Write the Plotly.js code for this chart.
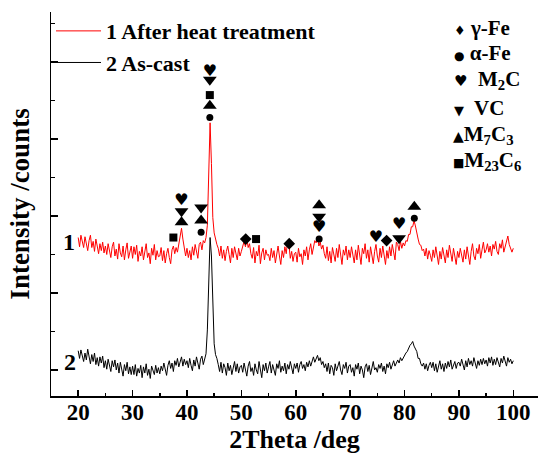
<!DOCTYPE html>
<html>
<head>
<meta charset="utf-8">
<script src="https://cdn.plot.ly/plotly-3.0.1.min.js"></script>
<style>html,body{margin:0;padding:0;overflow:hidden;background:#fff}#chart{width:538px;height:454px}</style>
</head>
<body>
<div id="chart"></div>
<script>
// 2Theta grid: start and step (deg)
const thetaStart = 20;
const thetaStep = 0.25;

// Curve 1: after heat treatment (arbitrary counts)
const heatTreated = [
172,160,175,166,159,173,163,155,168,175,159,167,154,170,161,151,164,155,166,152,
161,150,164,153,146,160,166,148,157,144,164,152,147,161,143,156,165,145,153,161,
145,160,150,162,141,154,148,160,143,156,164,146,152,138,158,149,163,143,155,147,
148,159,142,155,139,151,158,146,138,156,161,151,159,153,162,172,184,170,157,148,
158,146,155,143,160,149,163,151,145,163,166,156,168,165,172,188,242,321,268,198,
178,168,163,158,148,161,145,156,142,154,161,150,139,158,146,160,152,143,158,148,
154,163,167,160,171,159,164,151,145,159,139,154,148,162,138,152,158,143,156,149,
150,142,158,146,155,139,152,161,148,137,155,146,160,151,167,163,145,154,141,151,
153,140,158,147,151,137,156,148,160,143,156,164,150,162,168,165,174,161,166,157,
162,151,145,160,142,154,139,159,150,141,158,146,163,152,137,156,149,161,143,156,
146,160,150,139,156,143,162,148,137,158,151,164,145,156,140,160,148,138,154,163,
148,140,158,146,161,150,137,155,145,160,148,163,153,143,166,163,155,167,158,165,
161,168,167,176,176,186,186,194,187,177,170,163,162,155,157,148,158,144,155,149,
141,156,146,160,149,137,154,144,159,150,139,156,146,162,151,141,158,148,137,154,
146,158,149,140,156,144,160,151,137,154,164,148,143,158,151,163,145,156,166,152,
156,164,153,161,148,163,157,167,154,150,164,158,169,153,161,170,174,163,158,153,
158
];

// Curve 2: as-cast (arbitrary counts)
const asCast = [
25,15,26,18,11,22,13,27,16,8,20,11,22,7,16,5,17,9,18,3,
12,1,14,5,-2,12,4,13,0,9,-4,10,1,-8,7,-1,10,-5,4,-6,
5,-6,7,-8,2,-4,6,-10,4,-4,8,-7,1,-11,5,-1,-6,6,-4,3,
-5,5,-1,9,1,-7,6,12,2,9,-2,12,6,15,4,10,17,5,14,7,
12,3,15,6,-1,13,5,17,9,1,14,18,7,16,21,52,120,172,148,72,
34,20,15,7,-2,10,-4,8,3,-7,9,-1,6,-6,5,11,-2,8,-4,4,
6,-3,9,1,-8,5,11,-2,3,-7,8,0,-5,11,2,-10,7,-1,9,-4,
4,11,-4,7,0,-7,8,2,12,-3,5,-1,9,-5,7,1,11,3,-5,8,
2,9,-3,7,11,2,7,-1,10,4,12,5,12,17,10,15,19,12,16,7,
11,3,8,-2,9,-5,6,3,-7,8,-1,5,11,0,-6,7,2,10,-4,5,
7,-3,3,-8,7,1,9,-5,5,0,-10,4,8,-2,6,-6,4,11,0,3,
-3,7,2,9,-2,5,-5,8,3,10,1,6,12,5,9,13,9,16,12,16,
18,22,24,29,32,34,37,31,28,24,15,15,8,5,9,1,8,-1,6,10,
3,10,-1,8,-3,6,12,1,8,-2,9,2,11,4,13,1,7,11,2,9,
10,5,14,7,0,12,4,15,7,12,5,16,9,2,12,6,14,7,15,8,
13,5,16,9,17,6,14,7,16,11,4,15,9,18,11,5,16,10,14,8,
12
];

// Phase identification marks (peak 2Theta, label height)
const gammaFeX = [50.8, 58.8, 76.7];
const gammaFeY = [170, 164, 168];
const alphaFeX = [42.6, 44.2, 64.3, 81.8];
const alphaFeY = [179, 328, 170, 197];
const m2cX = [39.0, 44.2, 64.3, 74.75, 79.0];
const m2cY = [220, 387, 184, 171, 188];
const vcX = [39.0, 42.6, 44.2, 64.3, 79.0];
const vcY = [206, 211, 377, 199, 171];
const m7c3X = [39.0, 42.6, 44.2, 64.3, 81.8];
const m7c3Y = [192, 194, 343, 214, 212];
const m23c6X = [37.5, 44.2, 52.7];
const m23c6Y = [172, 357, 170];

const seriesNames = ['1 After heat treatment', '2 As-cast'];
const phaseLegend = ['γ-Fe', 'α-Fe', 'M<sub>2</sub>C', 'VC', 'M<sub>7</sub>C<sub>3</sub>', 'M<sub>23</sub>C<sub>6</sub>'];
const phaseSymbols = ['♦', '●', '♥', '▼', '▲', '■'];

const serif = 'Liberation Serif, Times New Roman, serif';
const fontB = (s) => ({family: serif, size: s, color: '#000', weight: 700});

function markTrace(x, y, symbol, size) {
  return {x: x, y: y, type: 'scatter', mode: 'markers', showlegend: false, hoverinfo: 'skip',
    marker: {symbol: symbol, size: size, color: '#000', line: {width: 0}}};
}

const traces = [
  {y: heatTreated, x0: thetaStart, dx: thetaStep, type: 'scatter', mode: 'lines', name: seriesNames[0],
   line: {color: '#ff0000', width: 1}},
  {y: asCast, x0: thetaStart, dx: thetaStep, type: 'scatter', mode: 'lines', name: seriesNames[1],
   line: {color: '#000000', width: 1}},
  markTrace(gammaFeX, gammaFeY, 'diamond', 9),
  markTrace(alphaFeX, alphaFeY, 'circle', 7),
  markTrace(vcX, vcY, 'triangle-down', 12),
  markTrace(m7c3X, m7c3Y, 'triangle-up', 12),
  markTrace(m23c6X, m23c6Y, 'square', 8),
  {x: m2cX, y: m2cY, type: 'scatter', mode: 'text', text: m2cX.map(() => '♥'), showlegend: false, hoverinfo: 'skip',
   textposition: 'middle center', textfont: {family: 'DejaVu Sans', size: 16, color: '#000'}}
];

const annotations = [
  {x: 18.3, y: 166, xref: 'x', yref: 'y', text: '1', showarrow: false, font: fontB(24), xanchor: 'center', yanchor: 'middle'},
  {x: 18.5, y: 10, xref: 'x', yref: 'y', text: '2', showarrow: false, font: fontB(24), xanchor: 'center', yanchor: 'middle'}
];
const legendTop = [28, 53, 80, 108, 135, 161];
const legendLeft = [452, 452, 452, 452, 451, 451];
const symSizes = [13, 12, 15, 13, 14, 12];
const gaps = [' ', ' ', '  ', '  ', '', ''];
for (let i = 0; i < phaseLegend.length; i++) {
  annotations.push({
    xref: 'paper', yref: 'paper', x: (legendLeft[i] - 51) / 487, y: 1 - (legendTop[i] - 12) / 384,
    xanchor: 'left', yanchor: 'middle', showarrow: false, align: 'left',
    text: "<span style='font-family:DejaVu Sans;font-size:" + symSizes[i] + "px'>" + phaseSymbols[i] + "</span>" + gaps[i] + phaseLegend[i],
    font: fontB(21)
  });
}

const layout = {
  width: 538, height: 454,
  margin: {l: 51, r: 0, t: 12, b: 58},
  paper_bgcolor: '#fff', plot_bgcolor: '#fff',
  showlegend: true,
  legend: {x: 0.0, y: 1.005, xanchor: 'left', yanchor: 'top', bgcolor: 'rgba(0,0,0,0)', font: fontB(22),
           borderwidth: 0, itemwidth: 45},
  xaxis: {
    range: [15, 104.54], showline: true, linecolor: '#000', linewidth: 1.5, mirror: false,
    ticks: 'inside', ticklen: 6, tickwidth: 1.5, tickcolor: '#000', dtick: 10, tick0: 0,
    minor: {ticks: 'inside', ticklen: 3, tickwidth: 1.5, tickcolor: '#000', dtick: 5, tick0: 0},
    showgrid: false, zeroline: false, tickfont: fontB(23), ticklabelstandoff: -5,
    title: {text: '2Theta /deg', font: fontB(26), standoff: 14}
  },
  xaxis2: {
    overlaying: 'x', side: 'top', range: [0, 10], dtick: 1, tick0: 0, showline: true, linecolor: '#000', linewidth: 1.5,
    ticks: 'inside', ticklen: 3, tickwidth: 1, tickcolor: '#000', showticklabels: false, showgrid: false, zeroline: false
  },
  yaxis: {
    range: [-33.8, 464.9], showline: true, linecolor: '#000', linewidth: 1.5,
    ticks: 'inside', ticklen: 7, tickwidth: 1.5, tickcolor: '#000', dtick: 100, tick0: 0,
    minor: {ticks: 'inside', ticklen: 4, tickwidth: 1.5, tickcolor: '#000', dtick: 50, tick0: 0},
    showticklabels: false, showgrid: false, zeroline: false,
    title: {text: 'Intensity /counts', font: fontB(27), standoff: 12}
  },
  annotations: annotations
};

Plotly.newPlot('chart', traces, layout, {displayModeBar: false, staticPlot: true});
</script>
</body>
</html>
